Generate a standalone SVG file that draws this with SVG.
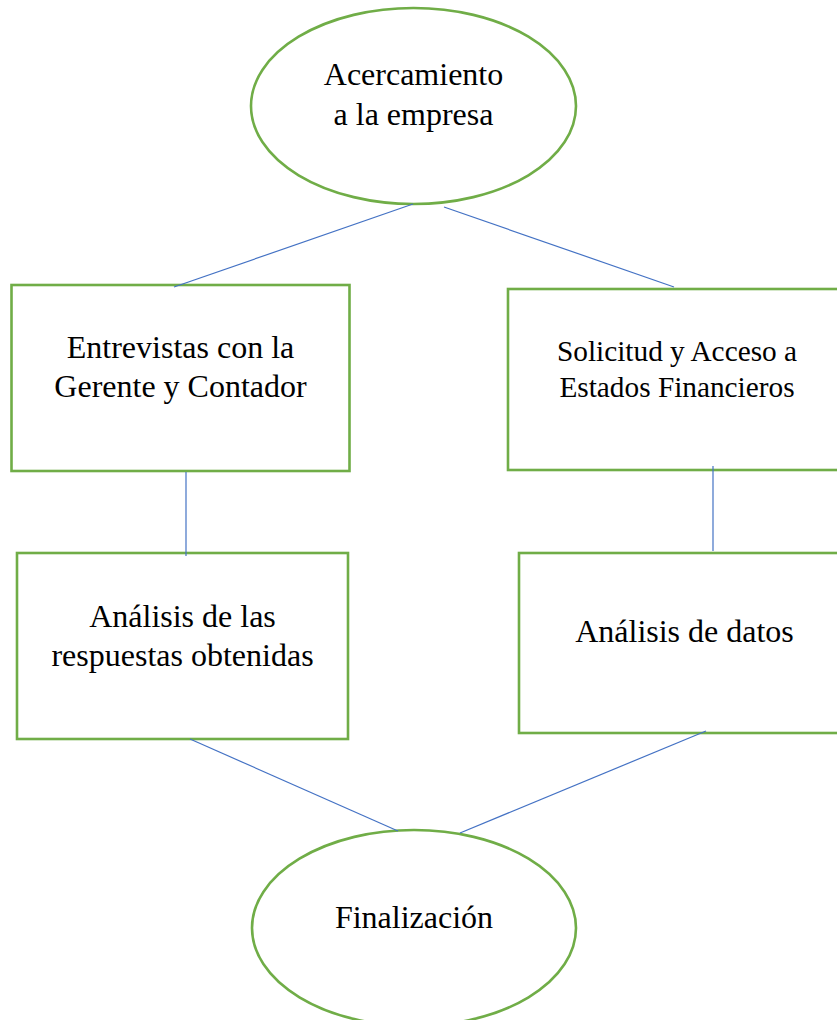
<svg xmlns="http://www.w3.org/2000/svg" width="837" height="1020" viewBox="0 0 837 1020">
<style>
.shape{fill:#ffffff;stroke:#70AD47;stroke-width:2.6}
.lbl{font-family:"Liberation Serif","Times New Roman",serif;font-size:32px;fill:#000;text-anchor:middle}
.small{font-size:29.3px}
.conn line{stroke:#4472C4;stroke-width:1.2}
</style>
<rect width="837" height="1020" fill="#ffffff"/>
<g id="n-acercamiento">
<ellipse class="shape" cx="413.5" cy="106" rx="162.5" ry="98"/>
<text class="lbl" x="413.5" y="85">Acercamiento</text>
<text class="lbl" x="413.5" y="125">a la empresa</text>
</g>
<g id="n-entrevistas">
<rect class="shape" x="11.5" y="285" width="338" height="186"/>
<text class="lbl" x="180.5" y="358">Entrevistas con la</text>
<text class="lbl" x="180.5" y="397">Gerente y Contador</text>
</g>
<g id="n-solicitud">
<rect class="shape" x="508" y="289" width="338" height="181"/>
<text class="lbl small" x="677" y="361">Solicitud y Acceso a</text>
<text class="lbl small" x="677" y="397">Estados Financieros</text>
</g>
<g id="n-analisis-respuestas">
<rect class="shape" x="17" y="553" width="331" height="186"/>
<text class="lbl" x="182.5" y="627">Análisis de las</text>
<text class="lbl" x="182.5" y="666">respuestas obtenidas</text>
</g>
<g id="n-analisis-datos">
<rect class="shape" x="519" y="553" width="331" height="180"/>
<text class="lbl" x="684.5" y="642">Análisis de datos</text>
</g>
<g id="n-finalizacion">
<ellipse class="shape" cx="414" cy="928" rx="162" ry="98"/>
<text class="lbl" x="414" y="928">Finalización</text>
</g>
<g id="connectors" class="conn">
<line x1="413" y1="204" x2="174" y2="287"/>
<line x1="444" y1="207" x2="674" y2="287"/>
<line x1="186" y1="472" x2="186" y2="556"/>
<line x1="713" y1="466" x2="713" y2="551"/>
<line x1="190" y1="739" x2="398" y2="831"/>
<line x1="706" y1="731" x2="460" y2="833"/>
</g>
</svg>
